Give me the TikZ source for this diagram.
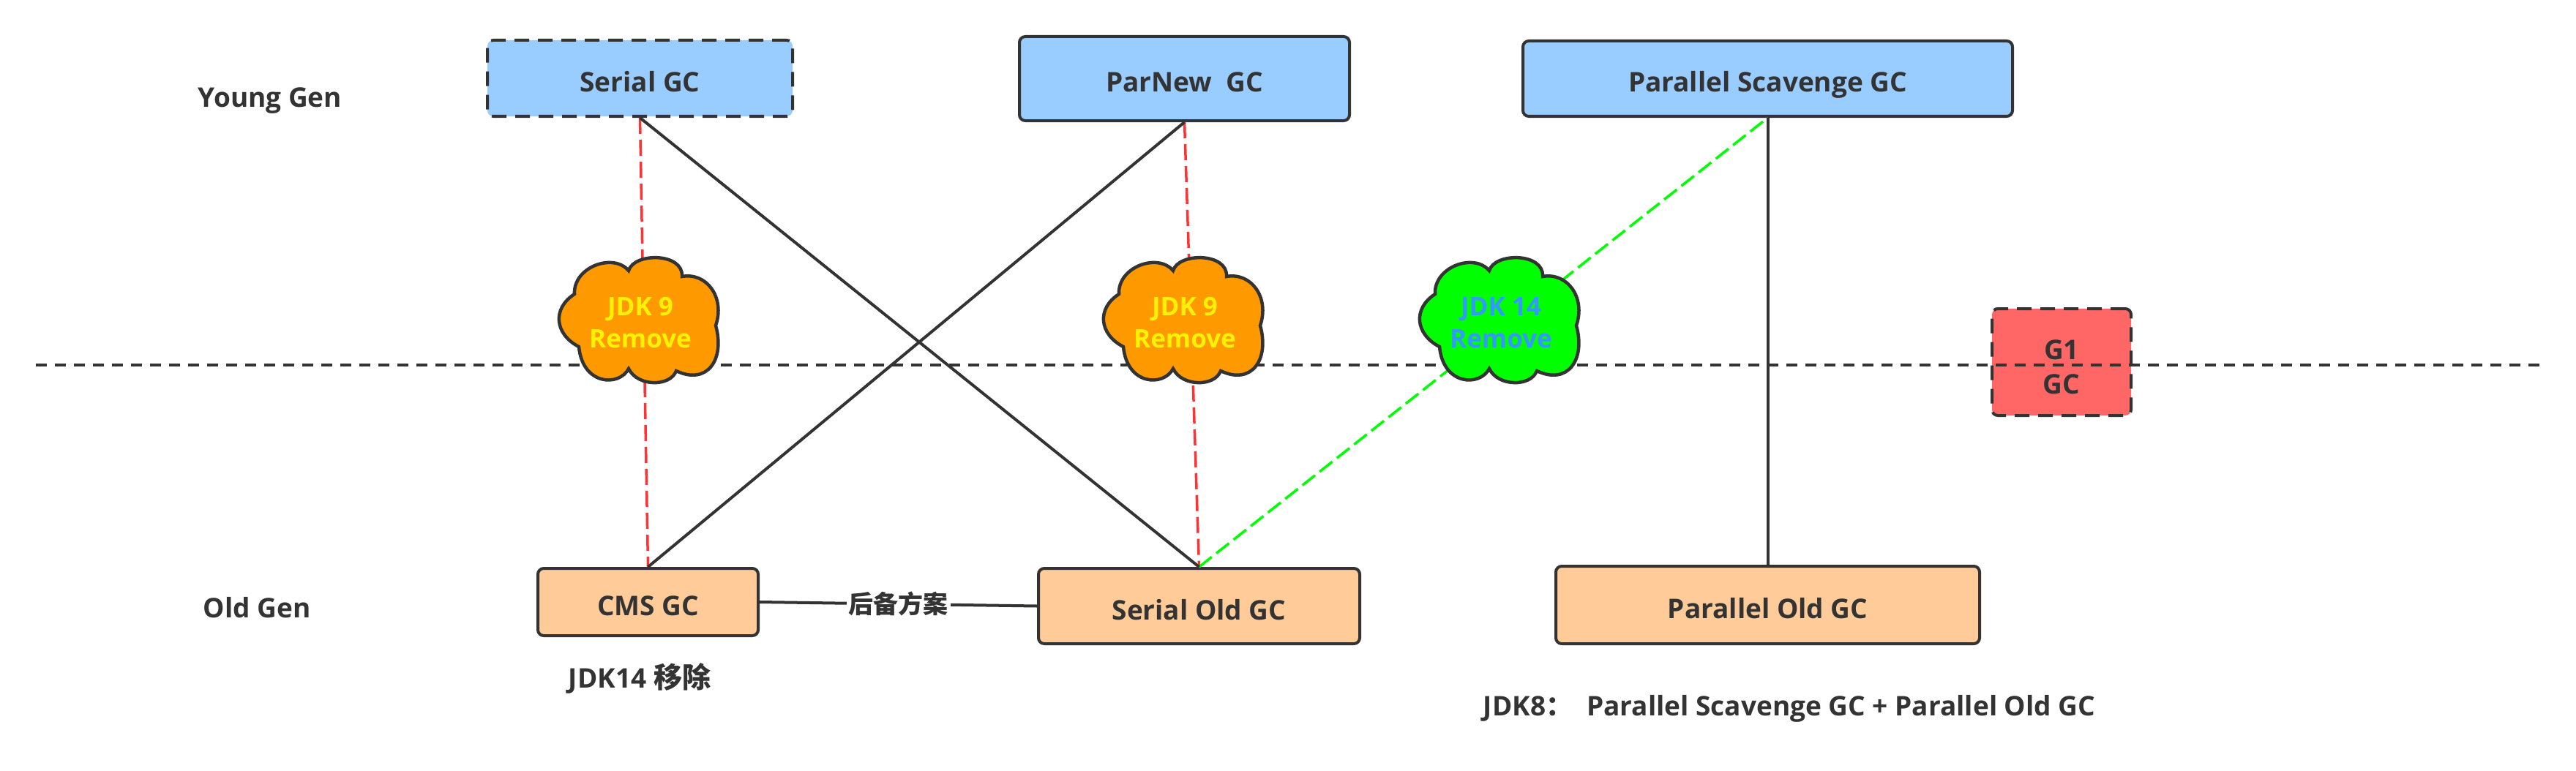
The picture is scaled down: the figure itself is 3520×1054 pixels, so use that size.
\documentclass[tikz,border=0pt]{standalone}
\usepackage{fontspec}
\setmainfont{Open Sans}
\newfontfamily\cjk{Noto Sans CJK SC}
\usepackage{xcolor}
\usetikzlibrary{calc,positioning}

\definecolor{inkgray}{HTML}{333333}
\definecolor{youngblue}{HTML}{99CCFF}
\definecolor{oldpeach}{HTML}{FFCC99}
\definecolor{gonered}{HTML}{FF6666}
\definecolor{cloudorange}{HTML}{FF9900}
\definecolor{cloudgreen}{HTML}{00FF00}
\definecolor{dashred}{HTML}{FF3333}
\definecolor{labelblue}{HTML}{3399FF}

\begin{document}
\begin{tikzpicture}[
	%	style def
    x=1pt, y=-1pt,
    every node/.style={color=inkgray, font=\fontsize{37}{45}\selectfont\bfseries, inner sep=0pt, align=center},
    gc box/.style={draw=inkgray, line width=4pt, rounded corners=8pt},
    single box/.style={gc box, text height=37pt, text depth=0pt},
    young box/.style={single box, fill=youngblue},
    old box/.style={single box, fill=oldpeach},
    dashed box/.style={dash pattern=on 20pt off 12pt},
    important line/.style={draw=inkgray, line width=4pt},
    removed red/.style={draw=dashred, line width=3.5pt, dash pattern=on 22pt off 8pt},
    removed green/.style={draw=cloudgreen, line width=3.5pt, dash pattern=on 22pt off 8pt},
    cloud text/.style={font=\fontsize{35}{44}\selectfont\bfseries},
    gc cloud/.pic={
        \path[draw=inkgray, line width=4.5pt, pic actions]
            (-91,-35) .. controls (-93,-72) and (-38,-92) .. (-17,-67)
            .. controls (-10,-92) and (58,-92) .. (56,-59)
            .. controls (90,-65) and (115,-30) .. (102,8)
            .. controls (115,55) and (90,90) .. (48,70)
            .. controls (40,92) and (-5,92) .. (-17,67)
            .. controls (-30,92) and (-80,90) .. (-85,37)
            .. controls (-118,20) and (-122,-15) .. (-91,-35) -- cycle;
    }
    ]
    \useasboundingbox (0,0) rectangle (3520,1054);

	% generation labels
	\node (younglabel) at (369,138) {Young Gen};
	\node (oldlabel) at (351,831) {Old Gen};

	% young collectors
	\node[young box, dashed box, minimum width=417pt, minimum height=104pt] (serial) at (874.5,107) {Serial GC};
	\node[young box, minimum width=451pt, minimum height=115pt] (parnew) at (1618.5,107.5) {ParNew\ \ GC};
	\node[young box, minimum width=669pt, minimum height=103pt] (scavenge) at (2415.5,107.5) {Parallel Scavenge GC};

	% old collectors
	\node[old box, minimum width=301pt, minimum height=92pt] (cms) at (885.5,823) {CMS GC};
	\node[old box, minimum width=439pt, minimum height=103pt] (serialold) at (1638.5,828.5) {Serial Old GC};
	\node[old box, minimum width=579pt, minimum height=106pt] (parallelold) at (2415.5,827) {Parallel Old GC};

	% g1 sits on the divider
	\node[gc box, dashed box, fill=gonered, minimum width=190pt, minimum height=146pt] (gone) at (2817,495) {\rule{0pt}{40pt}G1\\[2pt]GC};

	%divider between generations (dashed)
	\coordinate (divleft) at (49,499);
	\coordinate (divright) at (3471,499);
	\draw[important line, dash pattern=on 15pt off 11pt] (divleft) -- (divright);

	%connecting collectors
	\draw[removed red] (serial.south) -- (cms.north);
	\draw[removed red] (parnew.south) -- (serialold.north);
	\draw[removed green] (serialold.north) -- (scavenge.south);
	\draw[important line] (serial.south) -- (serialold.north);
	\draw[important line] (parnew.south) -- (cms.north);
	\draw[important line] (scavenge.south) -- (parallelold.north);
	\draw[important line] (cms.east) -- node[fill=white, inner xsep=3pt, inner ysep=1pt, font=\fontsize{34}{40}\selectfont\bfseries\cjk] (backup) {后备方案} (serialold.west);

	% clouds
	\pic[fill=cloudorange] at (876,437) {gc cloud};
	\pic[fill=cloudorange] at (1620,437) {gc cloud};
	\pic[fill=cloudgreen] at (2052,437) {gc cloud};
	\node[cloud text, text=yellow] (removea) at (875,441) {JDK 9\\Remove};
	\node[cloud text, text=yellow] (removeb) at (1619,441) {JDK 9\\Remove};
	\node[cloud text, text=labelblue] (removec) at (2051,441) {JDK 14\\Remove};

	% notes
	\node (cmsnote) at (874,927) {JDK14 {\cjk\fontsize{39}{45}\selectfont 移除}};
	\node (jdknote) at (2445,969) {JDK8{\cjk ：}\hspace{19pt}Parallel Scavenge GC + Parallel Old GC};
\end{tikzpicture}
\end{document}
